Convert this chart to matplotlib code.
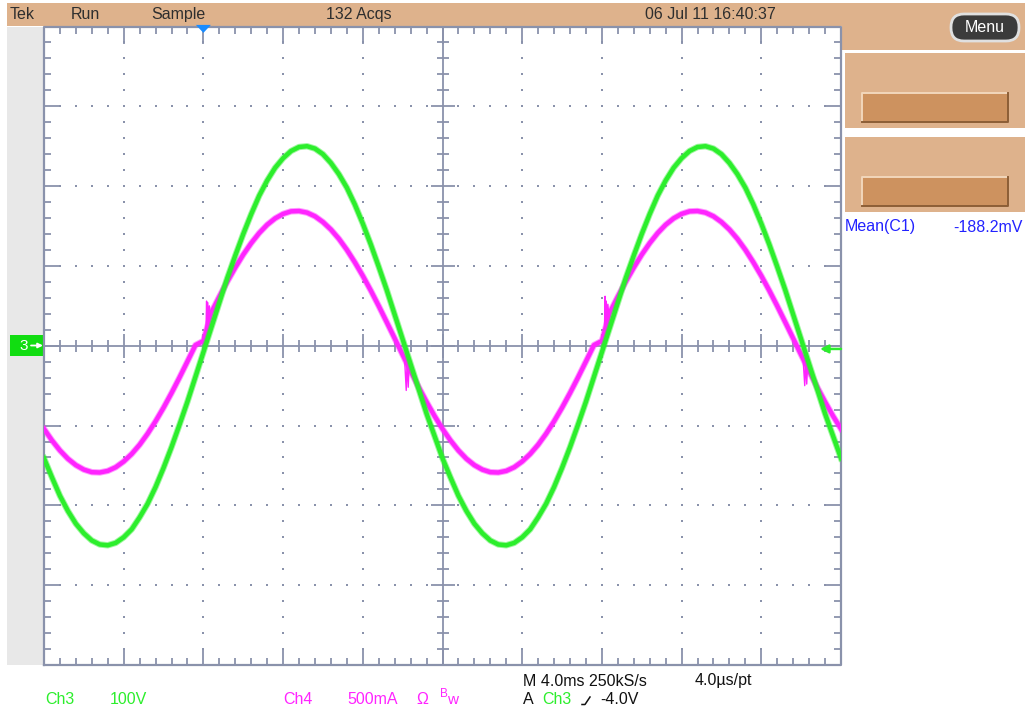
import matplotlib
matplotlib.use("Agg")
import matplotlib.pyplot as plt
from matplotlib.patches import Rectangle, Polygon, FancyBboxPatch
from matplotlib.collections import LineCollection
import numpy as np

plt.rcParams['font.family'] = ['Liberation Sans', 'DejaVu Sans']

# ---------------- data (read from the screen) ----------------
# time axis: 4 ms/div, trigger 2 div from left, samples every 0.4 ms
t_ms = [round(-8 + 0.4 * k, 1) for k in range(101)]

# Ch3 voltage (V), 100 V/div
ch3_volts = [
    -141, -165, -188, -207, -223, -235, -244, -249, -250, -247,
    -240, -230, -215, -198, -177, -153, -127, -99, -70, -39,
    -8, 23, 54, 85, 113, 140, 165, 188, 207, 223,
    235, 244, 249, 250, 247, 240, 229, 215, 198, 177,
    153, 127, 99, 70, 39, 8, -23, -54, -85, -113,
    -141, -165, -188, -207, -223, -235, -244, -249, -250, -247,
    -240, -230, -215, -198, -177, -153, -127, -99, -70, -39,
    -8, 23, 54, 85, 113, 140, 165, 188, 207, 223,
    235, 244, 249, 250, 247, 240, 229, 215, 198, 177,
    153, 127, 99, 70, 39, 8, -23, -54, -85, -113,
    -141]

# Ch4 current (A), 500 mA/div
ch4_amps = [
    -0.521, -0.593, -0.656, -0.708, -0.748, -0.776, -0.792, -0.794, -0.784, -0.761,
    -0.725, -0.678, -0.620, -0.551, -0.473, -0.388, -0.296, -0.199, -0.098, 0.004,
    0.030, 0.209, 0.308, 0.402, 0.490, 0.571, 0.643, 0.706, 0.758, 0.798,
    0.826, 0.842, 0.844, 0.834, 0.811, 0.775, 0.728, 0.670, 0.601, 0.523,
    0.438, 0.346, 0.249, 0.148, 0.046, -0.057, -0.159, -0.258, -0.352, -0.440,
    -0.521, -0.593, -0.656, -0.708, -0.748, -0.776, -0.792, -0.794, -0.784, -0.761,
    -0.725, -0.678, -0.620, -0.551, -0.473, -0.388, -0.296, -0.199, -0.098, 0.004,
    0.030, 0.209, 0.308, 0.402, 0.490, 0.571, 0.643, 0.706, 0.758, 0.798,
    0.826, 0.842, 0.844, 0.834, 0.811, 0.775, 0.728, 0.670, 0.601, 0.523,
    0.438, 0.346, 0.249, 0.148, 0.046, -0.057, -0.159, -0.258, -0.352, -0.440,
    -0.521]

# Ch4 switching glitches near zero crossings (time ms, current A)
glitch_rise1_t = [0.00, 0.12, 0.16, 0.18, 0.22, 0.26, 0.30, 0.36, 0.40]
glitch_rise1_i = [0.03, 0.04, 0.28, 0.08, 0.27, 0.12, 0.25, 0.17, 0.209]
glitch_fall1_t = [10.00, 10.10, 10.18, 10.22, 10.28, 10.32, 10.40]
glitch_fall1_i = [-0.057, -0.09, -0.28, -0.10, -0.26, -0.13, -0.159]
glitch_rise2_t = [20.00, 20.12, 20.16, 20.18, 20.22, 20.26, 20.30, 20.36, 20.40]
glitch_rise2_i = [0.03, 0.05, 0.31, 0.08, 0.28, 0.12, 0.26, 0.17, 0.209]
glitch_fall2_t = [30.00, 30.10, 30.18, 30.22, 30.28, 30.32, 30.40]
glitch_fall2_i = [-0.057, -0.09, -0.25, -0.10, -0.24, -0.13, -0.159]

ch3_scale = 100.0   # V/div
ch4_scale = 0.5     # A/div
trigger_level_v = -4.0

top_labels = [("Tek", 10), ("Run", 71), ("Sample", 151), ("132 Acqs", 326),
              ("06 Jul 11 16:40:37", 645)]

# ---------------- colours ----------------
TAN = '#deb28c'
BTN = '#cd925f'
GRID = '#8a92ab'
GREEN = '#2cee2c'
MAGENTA = '#ff24ff'
BLUE = '#2222ff'
TXT = '#2e2e2e'

fig = plt.figure(figsize=(10.25, 7.13), dpi=100)
fig.patch.set_facecolor('white')

# background / decoration axes in pixel coordinates
bg = fig.add_axes([0, 0, 1, 1])
bg.set_xlim(0, 1025)
bg.set_ylim(713, 0)
bg.axis('off')

bg.add_patch(Rectangle((7, 3), 1018, 22.5, facecolor=TAN, edgecolor='none'))
bg.add_patch(Rectangle((842, 3), 183, 47, facecolor=TAN, edgecolor='none'))
bg.add_patch(Rectangle((845, 53), 180, 75, facecolor=TAN, edgecolor='none'))
bg.add_patch(Rectangle((845, 137), 180, 75, facecolor=TAN, edgecolor='none'))
for by in (93, 177):
    bg.add_patch(Rectangle((862, by), 146, 29, facecolor=BTN, edgecolor='none'))
    bg.plot([862, 862, 1008], [by + 29, by, by], color='#f2d6bb', lw=1.4)
    bg.plot([862, 1008, 1008], [by + 29, by + 29, by], color='#8c5e36', lw=1.4)
bg.add_patch(Rectangle((7, 26.5), 36.5, 638.5, facecolor='#e8e8e8', edgecolor='none'))

bg.add_patch(FancyBboxPatch((951, 14), 68, 27,
                            boxstyle="round,pad=0,rounding_size=13",
                            facecolor='#3b3b3b', edgecolor='#e0e0e0', lw=2))
bg.text(985, 28, "Menu", color='white', fontsize=11.5, ha='center', va='center')

for txt, x in top_labels:
    bg.text(x, 14.5, txt, color=TXT, fontsize=11.5, ha='left', va='center')

# channel 3 ground marker
bg.add_patch(Rectangle((10, 335), 33.5, 21, facecolor='#11dd11', edgecolor='none'))
bg.text(24, 346, "3", color='white', fontsize=11, ha='center', va='center')
bg.annotate("", xy=(43, 345.5), xytext=(31, 345.5),
            arrowprops=dict(arrowstyle='-|>', color='white', lw=1.3,
                            mutation_scale=7, shrinkA=0, shrinkB=0))

# bottom readouts
bg.text(45, 699, "Ch3", color=GREEN, fontsize=11.5, va='center')
bg.text(110, 699, "100V", color=GREEN, fontsize=11.5, va='center')
bg.text(283, 699, "Ch4", color=MAGENTA, fontsize=11.5, va='center')
bg.text(347, 699, "500mA", color=MAGENTA, fontsize=11.5, va='center')
bg.text(416, 699, "\u03a9", color=MAGENTA, fontsize=11.5, va='center')
bg.text(440, 694, "B", color=MAGENTA, fontsize=8.5, va='center')
bg.text(447, 700, "w", color=MAGENTA, fontsize=11, va='center')
bg.text(523, 681, "M 4.0ms 250kS/s", color='#111111', fontsize=11.5, va='center')
bg.text(695, 681, "4.0\u00b5s/pt", color='#111111', fontsize=11.5, va='center')
bg.text(523, 700, "A", color='#111111', fontsize=11.5, va='center')
bg.text(542, 700, "Ch3", color=GREEN, fontsize=11.5, va='center')
bg.plot([582, 585, 590], [704.5, 704.5, 697], color='#111111', lw=1.1)
bg.text(600, 700, "-4.0V", color='#111111', fontsize=11.5, va='center')

bg.text(845, 227, "Mean(C1)", color=BLUE, fontsize=11.5, va='center')
bg.text(1023, 227, "-188.2mV", color=BLUE, fontsize=11.5, va='center', ha='right')

# ---------------- graticule / data axes ----------------
ax = fig.add_axes([44 / 1025, 48 / 713, 797 / 1025, 638.5 / 713])
ax.set_xlim(-8, 32)
ax.set_ylim(-4, 4)
ax.axis('off')

pxx = 797 / 40.0     # px per ms
pxy = 638.5 / 8.0    # px per div

segs = []
xs_minor = [-8 + 0.8 * i for i in range(1, 50)]
for x in xs_minor:
    major = abs((x + 8) / 4 - round((x + 8) / 4)) < 1e-6
    h_c = (12 if major else 6) / pxy
    h_b = (17 if major else 7) / pxy
    segs.append([(x, -h_c), (x, h_c)])
    segs.append([(x, 4), (x, 4 - h_b)])
    segs.append([(x, -4), (x, -4 + h_b)])
ys_minor = [-4 + 0.2 * i for i in range(1, 40)]
for y in ys_minor:
    major = abs((y + 4) - round(y + 4)) < 1e-6
    w_c = (12 if major else 6) / pxx
    w_b = (17 if major else 7) / pxx
    segs.append([(12 - w_c, y), (12 + w_c, y)])
    segs.append([(-8, y), (-8 + w_b, y)])
    segs.append([(32, y), (32 - w_b, y)])
segs.append([(-8, 0), (32, 0)])
segs.append([(12, -4), (12, 4)])
ax.add_collection(LineCollection(segs, colors=GRID, linewidths=1.3, zorder=1))
ax.plot([-8, 32, 32, -8, -8], [-4, -4, 4, 4, -4], color=GRID, lw=1.6,
        clip_on=False, zorder=1)

dot_x, dot_y = [], []
for xv in (-4, 0, 4, 8, 16, 20, 24, 28):
    for y in ys_minor:
        if abs(y) > 1e-6:
            dot_x.append(xv)
            dot_y.append(y)
for yv in (-3, -2, -1, 1, 2, 3):
    for x in xs_minor:
        if abs(x - 12) > 1e-6:
            dot_x.append(x)
            dot_y.append(yv)
ax.plot(dot_x, dot_y, linestyle='none', marker='s', markersize=1.5,
        color=GRID, markeredgewidth=0, zorder=1)

# trigger position marker (t = 0) at the top edge
tri_w = 7.5 / pxx
tri_h = 8.0 / pxy
ax.add_patch(Polygon([(-tri_w, 4.02), (tri_w, 4.02), (0, 4.02 - tri_h)],
                     closed=True, facecolor='#1a8cff', edgecolor='none',
                     clip_on=False, zorder=6))

# trigger level arrow on the right edge
lvl = trigger_level_v / ch3_scale
ax.annotate("", xy=(32 - 21 / pxx, lvl), xytext=(32, lvl),
            arrowprops=dict(arrowstyle='-|>', color=GREEN, lw=1.8,
                            mutation_scale=12, shrinkA=0, shrinkB=0),
            annotation_clip=False, zorder=6)

# traces: soft halo + solid core to imitate the sampled noise band
t_arr = np.array(t_ms)
ch4_div = np.array(ch4_amps) / ch4_scale
ch3_div = np.array(ch3_volts) / ch3_scale
ax.plot(t_arr, ch4_div, color=MAGENTA, lw=4.6, alpha=0.45,
        solid_joinstyle='round', zorder=3)
ax.plot(t_arr, ch4_div, color=MAGENTA, lw=3.2,
        solid_joinstyle='round', zorder=3)
for gt, gi in ((glitch_rise1_t, glitch_rise1_i), (glitch_fall1_t, glitch_fall1_i),
               (glitch_rise2_t, glitch_rise2_i), (glitch_fall2_t, glitch_fall2_i)):
    ax.plot(gt, np.array(gi) / ch4_scale, color=MAGENTA, lw=1.0, zorder=3)
ax.plot(t_arr, ch3_div, color=GREEN, lw=4.6, alpha=0.45,
        solid_joinstyle='round', zorder=4)
ax.plot(t_arr, ch3_div, color=GREEN, lw=3.2,
        solid_joinstyle='round', zorder=4)

fig.savefig("out.png", dpi=100, facecolor='white')
